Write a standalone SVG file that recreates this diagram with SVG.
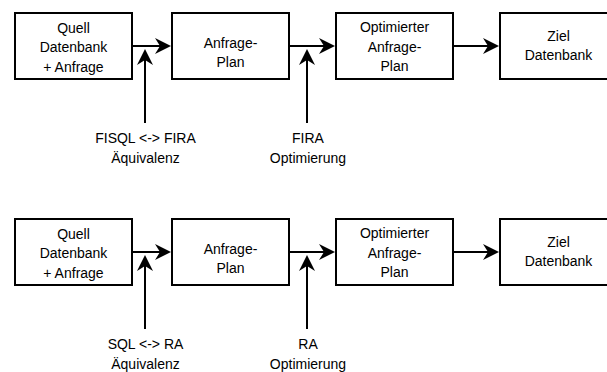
<svg xmlns="http://www.w3.org/2000/svg" width="607" height="372" viewBox="0 0 607 372">
<style>
.box{fill:#fff;stroke:#000;stroke-width:2}
.con{fill:none;stroke:#000;stroke-width:2}
text{font-family:"Liberation Sans",Arial,sans-serif;font-size:14px;fill:#000;text-anchor:middle}
</style>
<defs>
<marker id="ah" markerUnits="userSpaceOnUse" markerWidth="16" markerHeight="16" viewBox="0 0 16 16" refX="6" refY="8" orient="auto">
<path d="M0,0 L16,8 L0,16 L5,8 Z" fill="#000"/>
</marker>
</defs>
<rect width="607" height="372" fill="#fff"/>
<g id="top-q"><rect class="box" x="15" y="13" width="117" height="66"/><text x="73.5" y="32.5">Quell</text><text x="73.5" y="52">Datenbank</text><text x="73.5" y="71.5">+ Anfrage</text></g>
<g id="top-plan"><rect class="box" x="172" y="13" width="117" height="66"/><text x="230.5" y="47.5">Anfrage-</text><text x="230.5" y="67">Plan</text></g>
<g id="top-opt"><rect class="box" x="336" y="13" width="117" height="66"/><text x="394.5" y="31.7">Optimierter</text><text x="394.5" y="51.5">Anfrage-</text><text x="394.5" y="71">Plan</text></g>
<g id="top-ziel"><rect class="box" x="500" y="13" width="117" height="66"/><text x="558.5" y="40.5">Ziel</text><text x="558.5" y="60">Datenbank</text></g>
<g id="top-l1"><text x="145.5" y="143">FISQL &lt;-&gt; FIRA</text><text x="145.5" y="162.5">Äquivalenz</text></g>
<g id="top-l2"><text x="308" y="143">FIRA</text><text x="308" y="162.5">Optimierung</text></g>

<g id="bot-q"><rect class="box" x="15" y="219" width="117" height="66"/><text x="73.5" y="238.5">Quell</text><text x="73.5" y="258">Datenbank</text><text x="73.5" y="277.5">+ Anfrage</text></g>
<g id="bot-plan"><rect class="box" x="172" y="219" width="117" height="66"/><text x="230.5" y="253.5">Anfrage-</text><text x="230.5" y="273">Plan</text></g>
<g id="bot-opt"><rect class="box" x="336" y="219" width="117" height="66"/><text x="394.5" y="237.7">Optimierter</text><text x="394.5" y="257.5">Anfrage-</text><text x="394.5" y="277">Plan</text></g>
<g id="bot-ziel"><rect class="box" x="500" y="219" width="117" height="66"/><text x="558.5" y="246.5">Ziel</text><text x="558.5" y="266">Datenbank</text></g>
<g id="bot-l1"><text x="145.5" y="349">SQL &lt;-&gt; RA</text><text x="145.5" y="368.5">Äquivalenz</text></g>
<g id="bot-l2"><text x="308" y="349">RA</text><text x="308" y="368.5">Optimierung</text></g>

<g id="connectors">
<path class="con" d="M132,46 H161" marker-end="url(#ah)"/>
<path class="con" d="M289,46 H325" marker-end="url(#ah)"/>
<path class="con" d="M453,46 H489" marker-end="url(#ah)"/>
<path class="con" d="M145,123 V59" marker-end="url(#ah)"/>
<path class="con" d="M307,123 V59" marker-end="url(#ah)"/>
<path class="con" d="M132,252 H161" marker-end="url(#ah)"/>
<path class="con" d="M289,252 H325" marker-end="url(#ah)"/>
<path class="con" d="M453,252 H489" marker-end="url(#ah)"/>
<path class="con" d="M145,329 V265" marker-end="url(#ah)"/>
<path class="con" d="M307,329 V265" marker-end="url(#ah)"/>
</g>
</svg>
